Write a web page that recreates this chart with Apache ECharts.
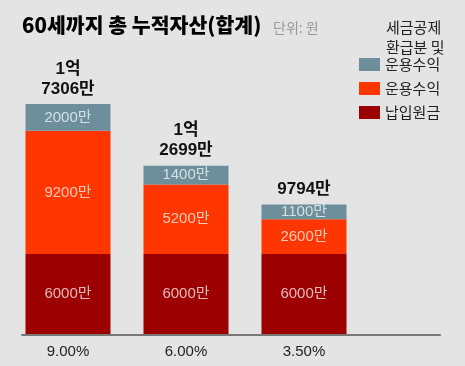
<!DOCTYPE html>
<html><head><meta charset="utf-8">
<script src="https://cdn.jsdelivr.net/npm/echarts@6/dist/echarts.min.js"></script>
<style>html,body{margin:0;padding:0;background:#e4e4e4}#c{width:465px;height:366px}</style>
</head><body><div id="c"></div>
<script>
const categories = ['9.00%', '6.00%', '3.50%'];
const principal = [6000, 6000, 6000];
const returns = [9200, 5200, 2600];
const taxRefund = [2000, 1400, 1100];
const totalLabels = ['1억\n7306만', '1억\n2699만', '9794만'];
const seriesNames = ['세금공제 환급분 및 운용수익', '운용수익', '납입원금'];

const FONT = 'Liberation Sans, "Noto Sans CJK KR", sans-serif';
const chart = echarts.init(document.getElementById('c'));
const segLabel = {
  show: true, position: 'inside', fontFamily: FONT, fontSize: 15,
  color: 'rgba(255,255,255,0.72)', formatter: p => p.value + '만'
};
chart.setOption({
  backgroundColor: '#e4e4e4',
  animation: false,
  title: [
    { text: '60세까지 총 누적자산(합계)', left: 17, top: 10,
      textStyle: { fontFamily: '"Noto Sans CJK KR"', fontSize: 20.5, fontWeight: 900, color: '#000' } },
    { text: '단위: 원', left: 268, top: 16,
      textStyle: { fontFamily: '"Noto Sans CJK KR"', fontSize: 14, fontWeight: 'normal', color: '#999' } },
    { text: '세금공제\n환급분 및', left: 381, top: 12,
      textStyle: { fontFamily: '"Noto Sans CJK KR"', fontSize: 15, fontWeight: 'normal', color: '#222', lineHeight: 20 } }
  ],
  legend: {
    orient: 'vertical', left: 354, top: 49.5, itemWidth: 21, itemHeight: 13, itemGap: 4,
    icon: 'rect', data: seriesNames,
    textStyle: { fontFamily: '"Noto Sans CJK KR"', fontSize: 15, color: '#222', lineHeight: 20 },
    formatter: n => n === seriesNames[0] ? '운용수익' : n
  },
  grid: [
    { left: 9, right: 102, top: 66.5, bottom: 31.5 },
    { left: 22, right: 25, top: 66.5, bottom: 31.5 }
  ],
  xAxis: [
    { type: 'category', data: categories, gridIndex: 0,
      axisLine: { show: false }, axisTick: { show: false },
      axisLabel: { fontFamily: FONT, fontSize: 15, color: '#222', margin: 10 } },
    { type: 'category', data: [''], gridIndex: 1, z: 5,
      axisLine: { show: true, lineStyle: { color: '#777', width: 2 } },
      axisTick: { show: false }, axisLabel: { show: false } }
  ],
  yAxis: [
    { type: 'value', min: 0, max: 20000, gridIndex: 0, show: false, splitLine: { show: false } },
    { type: 'value', gridIndex: 1, show: false, splitLine: { show: false } }
  ],
  series: [
    { name: seriesNames[2], type: 'bar', stack: 't', barWidth: 85, data: principal,
      itemStyle: { color: '#9c0000' }, label: segLabel },
    { name: seriesNames[1], type: 'bar', stack: 't', barWidth: 85, data: returns,
      itemStyle: { color: '#ff3600' }, label: segLabel },
    { name: seriesNames[0], type: 'bar', stack: 't', barWidth: 85, data: taxRefund,
      itemStyle: { color: '#6c8f9b' }, label: segLabel },
    { name: 'total', type: 'bar', stack: 't', barWidth: 85, data: [0, 0, 0],
      label: { show: true, position: 'top', distance: 5, fontFamily: FONT, fontSize: 17,
        fontWeight: 'bold', color: '#111', lineHeight: 20,
        formatter: p => totalLabels[p.dataIndex] } }
  ]
});
</script></body></html>
